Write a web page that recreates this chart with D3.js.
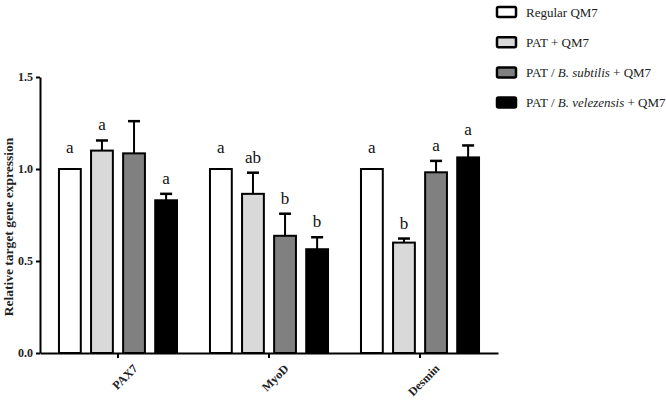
<!DOCTYPE html>
<html>
<head>
<meta charset="utf-8">
<script src="https://cdn.jsdelivr.net/npm/d3@7"></script>
<style>
  body { margin: 0; background: #fff; }
  svg { font-family: "Liberation Serif", "Times New Roman", serif; }
  .axis path, .axis line { stroke: #000; stroke-width: 2; }
  .axis text { font-family: "Liberation Serif", "Times New Roman", serif; font-weight: bold; font-size: 12px; fill: #222; }
</style>
</head>
<body>
<div id="chart"></div>
<script>
var genes = ["PAX7", "MyoD", "Desmin"];
var groups = ["Regular QM7", "PAT + QM7", "PAT / B. subtilis + QM7", "PAT / B. velezensis + QM7"];
var means = [
  [1.00, 1.10, 1.085, 0.83],
  [1.00, 0.865, 0.637, 0.564],
  [1.00, 0.60, 0.982, 1.063]
];
var errs = [
  [0.0, 0.055, 0.175, 0.035],
  [0.0, 0.115, 0.12, 0.065],
  [0.0, 0.022, 0.062, 0.065]
];
var letters = [
  ["a", "a", "", "a"],
  ["a", "ab", "b", "b"],
  ["a", "b", "a", "a"]
];
var fills = ["#ffffff", "#d9d9d9", "#808080", "#000000"];
var yTicks = [0, 0.5, 1.0, 1.5];

var W = 666, H = 403;
var margin = {top: 77, left: 40, bottom: 50, right: 168};
var height = H - margin.top - margin.bottom;
var width = W - margin.left - margin.right;

var svg = d3.select("#chart").append("svg").attr("width", W).attr("height", H);
var g = svg.append("g").attr("transform", "translate(" + margin.left + "," + margin.top + ")");

var y = d3.scaleLinear().domain([0, 1.5]).range([height, 0]);
var x0 = d3.scaleBand().domain(genes).range([0, width]).paddingInner(0.205).paddingOuter(0.119);
var x1 = d3.scaleBand().domain(d3.range(groups.length)).range([1, x0.bandwidth() - 1]).paddingInner(0.32);

var data = [];
genes.forEach(function(gn, i) {
  groups.forEach(function(gr, j) {
    data.push({gene: gn, j: j, v: means[i][j], e: errs[i][j], l: letters[i][j]});
  });
});

function cx(d) { return x0(d.gene) + x1(d.j) + x1.bandwidth() / 2; }

// error bars (upper only)
var eb = g.append("g").selectAll("g").data(data.filter(function(d){ return d.e > 0; })).enter().append("g");
eb.append("line")
  .attr("x1", cx).attr("x2", cx)
  .attr("y1", function(d){ return y(d.v); })
  .attr("y2", function(d){ return y(d.v + d.e); })
  .attr("stroke", "#000").attr("stroke-width", 2);
eb.append("line")
  .attr("x1", function(d){ return cx(d) - 6; })
  .attr("x2", function(d){ return cx(d) + 6; })
  .attr("y1", function(d){ return y(d.v + d.e); })
  .attr("y2", function(d){ return y(d.v + d.e); })
  .attr("stroke", "#000").attr("stroke-width", 2.5);

g.append("g").selectAll("rect").data(data).enter().append("rect")
  .attr("x", function(d){ return x0(d.gene) + x1(d.j); })
  .attr("y", function(d){ return y(d.v); })
  .attr("width", x1.bandwidth())
  .attr("height", function(d){ return height - y(d.v); })
  .attr("fill", function(d){ return fills[d.j]; })
  .attr("stroke", "#000").attr("stroke-width", 2);

g.append("g").selectAll("text").data(data).enter().append("text")
  .attr("x", cx)
  .attr("y", function(d){ return y(d.v + d.e) - (d.e > 0 ? 10 : 16); })
  .attr("text-anchor", "middle")
  .attr("font-size", "17px")
  .attr("fill", "#111")
  .text(function(d){ return d.l; });

g.append("g").attr("class", "axis")
  .call(d3.axisLeft(y).tickValues(yTicks).tickFormat(d3.format(".1f")).tickSize(4).tickSizeOuter(0));

var xa = g.append("g").attr("class", "axis")
  .attr("transform", "translate(0," + height + ")")
  .call(d3.axisBottom(x0).tickSize(5).tickSizeOuter(0));
xa.selectAll("text")
  .attr("text-anchor", "end")
  .attr("transform", "translate(7,3) rotate(-45)")
  .attr("dx", 0).attr("dy", "0.9em")
  .attr("font-size", "11.5px");

svg.append("text")
  .attr("transform", "translate(13,227) rotate(-90)")
  .attr("text-anchor", "middle")
  .attr("font-weight", "bold")
  .attr("font-size", "13.5px")
  .attr("fill", "#222")
  .text("Relative target gene expression");

// legend
var legendLabels = [
  [{t: "Regular QM7"}],
  [{t: "PAT + QM7"}],
  [{t: "PAT / "}, {t: "B. subtilis", i: true}, {t: " + QM7"}],
  [{t: "PAT / "}, {t: "B. velezensis", i: true}, {t: " + QM7"}]
];
var lg = svg.append("g").selectAll("g").data(groups).enter().append("g")
  .attr("transform", function(d, i){ return "translate(497," + (12 + i * 30.2) + ")"; });
lg.append("rect").attr("x", 0).attr("y", -5).attr("width", 19).attr("height", 10)
  .attr("rx", 1.5)
  .attr("fill", function(d, i){ return fills[i]; })
  .attr("stroke", "#000").attr("stroke-width", 2.5);
lg.append("text").attr("x", 29).attr("y", 4.5).attr("font-size", "13px").attr("fill", "#222")
  .each(function(d, i) {
    var t = d3.select(this);
    legendLabels[i].forEach(function(p) {
      t.append("tspan").attr("font-style", p.i ? "italic" : "normal").text(p.t);
    });
  });
</script>
</body>
</html>
